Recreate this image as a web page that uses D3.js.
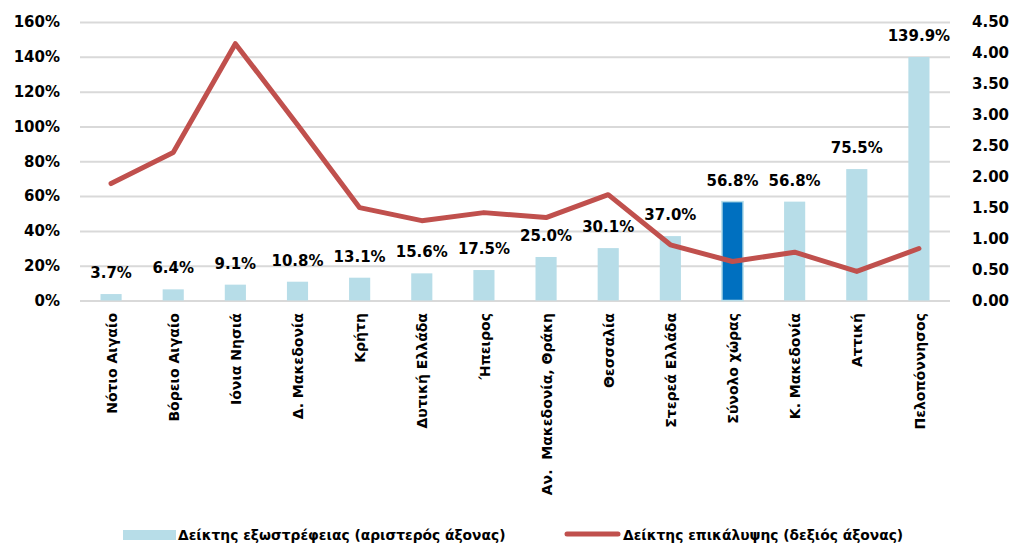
<!DOCTYPE html>
<html>
<head>
<meta charset="utf-8">
<script src="https://cdn.jsdelivr.net/npm/d3@7"></script>
<style>
  body { margin: 0; background: #fff; }
  svg text { font-family: "DejaVu Sans", sans-serif; font-weight: bold; fill: #000; }
</style>
</head>
<body>
<div id="chart"></div>
<script>
// regions (x axis)
var regions = ["Νότιο Αιγαίο", "Βόρειο Αιγαίο", "Ιόνια Νησιά", "Δ. Μακεδονία", "Κρήτη",
               "Δυτική Ελλάδα", "Ήπειρος", "Αν.  Μακεδονία, Θράκη", "Θεσσαλία", "Στερεά Ελλάδα",
               "Σύνολο χώρας", "Κ. Μακεδονία", "Αττική", "Πελοπόννησος"];
// extroversion index, % (left axis)
var extroversion = [3.7, 6.4, 9.1, 10.8, 13.1, 15.6, 17.5, 25.0, 30.1, 37.0, 56.8, 56.8, 75.5, 139.9];
// coverage index (right axis)
var coverage = [1.89, 2.39, 4.15, 2.84, 1.50, 1.29, 1.42, 1.34, 1.71, 0.90, 0.63, 0.78, 0.47, 0.84];
var leftTicks = [0, 20, 40, 60, 80, 100, 120, 140, 160];
var rightTicks = [0, 0.5, 1, 1.5, 2, 2.5, 3, 3.5, 4, 4.5];
var highlight = "Σύνολο χώρας";
var legendLabels = ["Δείκτης εξωστρέφειας (αριστερός άξονας)", "Δείκτης επικάλυψης (δεξιός άξονας)"];

function init(){
    var w = 1009, h = 545;
    var left = 80, right = 950, top = 22, bottom = 300.5;

    var svg = d3.select("#chart").append("svg")
        .attr("width", w)
        .attr("height", h);

    var x = d3.scaleBand()
        .domain(regions)
        .range([left, right])
        .paddingInner(0.66)
        .paddingOuter(0.33);

    var yL = d3.scaleLinear().domain([0, 160]).range([bottom, top]);
    var yR = d3.scaleLinear().domain([0, 4.5]).range([bottom, top]);

    // gridlines + left labels
    var gl = svg.append("g")
        .attr("transform", "translate(" + left + ",0)")
        .call(d3.axisLeft(yL).tickValues(leftTicks)
              .tickSize(-(right - left)).tickPadding(20)
              .tickFormat(function(d){ return d + "%"; }));
    gl.select(".domain").remove();
    gl.selectAll(".tick line").attr("stroke", "#d9d9d9").attr("stroke-width", 2);
    gl.selectAll(".tick text").style("font-size", "15px").style("font-family", "DejaVu Sans").style("font-weight", "bold");

    // right labels
    var gr = svg.append("g")
        .attr("transform", "translate(" + right + ",0)")
        .call(d3.axisRight(yR).tickValues(rightTicks)
              .tickSize(0).tickPadding(22)
              .tickFormat(d3.format(".2f")));
    gr.select(".domain").remove();
    gr.selectAll(".tick text").style("font-size", "15px").style("font-family", "DejaVu Sans").style("font-weight", "bold");

    // bars
    svg.selectAll("rect.bar")
        .data(extroversion)
        .enter()
        .append("rect")
        .attr("class", "bar")
        .attr("x", function(d, i){ return x(regions[i]); })
        .attr("y", function(d){ return yL(d); })
        .attr("width", x.bandwidth())
        .attr("height", function(d){ return bottom - yL(d); })
        .attr("fill", function(d, i){ return regions[i] === highlight ? "#0070c0" : "#b7dde8"; })
        .attr("stroke", function(d, i){ return regions[i] === highlight ? "#b7dde8" : "none"; })
        .attr("stroke-width", 1.5);

    // bar value labels
    svg.selectAll("text.val")
        .data(extroversion)
        .enter()
        .append("text")
        .attr("class", "val")
        .attr("text-anchor", "middle")
        .style("font-size", "15px")
        .attr("x", function(d, i){ return x(regions[i]) + x.bandwidth() / 2; })
        .attr("y", function(d){ return yL(d) - 16; })
        .text(function(d){ return d.toFixed(1) + "%"; });

    // coverage line
    var line = d3.line()
        .x(function(d, i){ return x(regions[i]) + x.bandwidth() / 2; })
        .y(function(d){ return yR(d); });

    svg.append("path")
        .datum(coverage)
        .attr("d", line)
        .attr("fill", "none")
        .attr("stroke", "#c0504d")
        .attr("stroke-width", 5)
        .attr("stroke-linejoin", "round")
        .attr("stroke-linecap", "round");

    // category labels, rotated
    svg.selectAll("text.cat")
        .data(regions)
        .enter()
        .append("text")
        .attr("class", "cat")
        .attr("text-anchor", "end")
        .attr("dy", "0.4em")
        .style("font-size", "14px")
        .style("white-space", "pre")
        .attr("transform", function(d){
            return "translate(" + (x(d) + x.bandwidth() / 2) + ",313) rotate(-90)";
        })
        .text(function(d){ return d; });

    // legend
    var lg = svg.append("g");
    lg.append("rect")
        .attr("x", 123).attr("y", 530)
        .attr("width", 53).attr("height", 10)
        .attr("fill", "#b7dde8");
    lg.append("text")
        .attr("x", 178).attr("y", 535).attr("dy", "0.35em")
        .style("font-size", "13.8px")
        .text(legendLabels[0]);
    lg.append("line")
        .attr("x1", 567).attr("x2", 618)
        .attr("y1", 534).attr("y2", 534)
        .attr("stroke", "#c0504d")
        .attr("stroke-width", 5)
        .attr("stroke-linecap", "round");
    lg.append("text")
        .attr("x", 623).attr("y", 535).attr("dy", "0.35em")
        .style("font-size", "13.8px")
        .text(legendLabels[1]);
}

window.onload = init;
</script>
</body>
</html>
